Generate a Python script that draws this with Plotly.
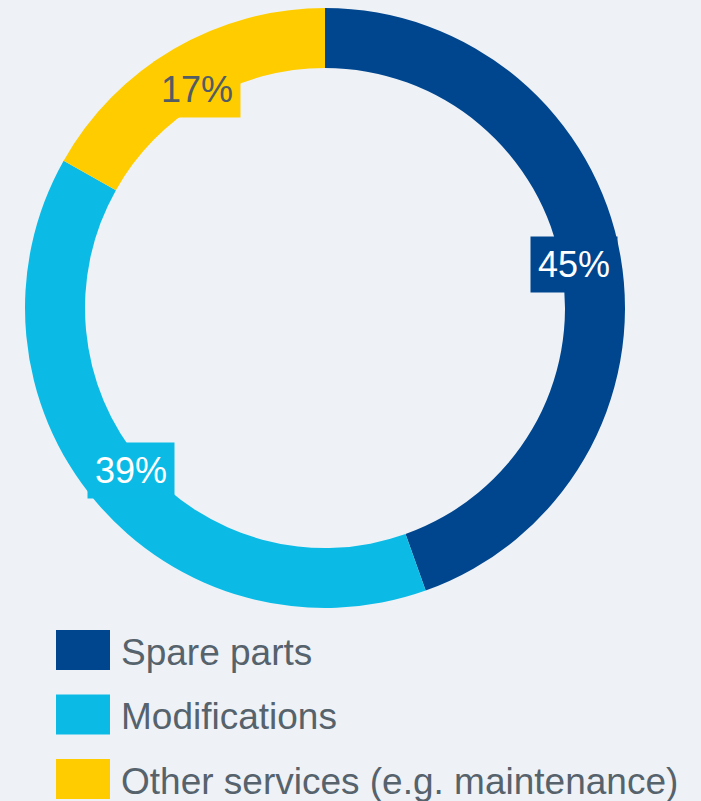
import math
import plotly.graph_objects as go

categories = ["Spare parts", "Modifications", "Other services (e.g. maintenance)"]
values = [45, 39, 17]
labels_text = ["45%", "39%", "17%"]
colors = ["#00468f", "#0bbbe6", "#ffcc00"]
label_font_colors = ["#ffffff", "#ffffff", "#525c64"]

W, H = 701, 801
cx, cy, R = 325, 308, 300
BG = "#eef2f6"
FONT = "Liberation Sans, Arial, sans-serif"

fig = go.Figure(go.Pie(
    labels=categories,
    values=values,
    marker=dict(colors=colors, line=dict(width=0)),
    hole=0.8,
    sort=False,
    direction="clockwise",
    rotation=0,
    textinfo="none",
    hoverinfo="label+percent",
    showlegend=False,
    domain=dict(x=[(cx - R) / W, (cx + R) / W], y=[(H - cy - R) / H, (H - cy + R) / H]),
))

annotations = []
total = sum(values)
cum = 0
rl = 253
for v, t, c, fc in zip(values, labels_text, colors, label_font_colors):
    mid = (cum + v / 2) / total * 2 * math.pi
    cum += v
    px = cx + rl * math.sin(mid)
    py = cy - rl * math.cos(mid)
    annotations.append(dict(
        x=px / W, y=(H - py) / H, xref="paper", yref="paper",
        text=t, showarrow=False, font=dict(family=FONT, size=36, color=fc),
        bgcolor=c, borderpad=7, xanchor="center", yanchor="middle",
    ))

shapes = []
leg_top = 630
leg_step = 64.5
for i, (name, c) in enumerate(zip(categories, colors)):
    y0 = leg_top + i * leg_step
    shapes.append(dict(type="rect", xref="paper", yref="paper",
                       x0=56 / W, x1=110 / W, y0=(H - y0) / H, y1=(H - y0 - 40) / H,
                       fillcolor=c, line=dict(width=0)))
    annotations.append(dict(
        x=119 / W, y=(H - y0 - 22) / H, xref="paper", yref="paper",
        text=name, showarrow=False, font=dict(family=FONT, size=37, color="#56626c"),
        xanchor="left", yanchor="middle",
    ))

fig.update_layout(
    width=W, height=H,
    margin=dict(l=0, r=0, t=0, b=0),
    paper_bgcolor=BG, plot_bgcolor=BG,
    annotations=annotations, shapes=shapes,
)

fig.write_html(
    "out.html",
    config={"displayModeBar": False},
    post_script="document.body.style.margin='0';document.body.style.overflow='hidden';document.body.style.background='" + BG + "';",
)
